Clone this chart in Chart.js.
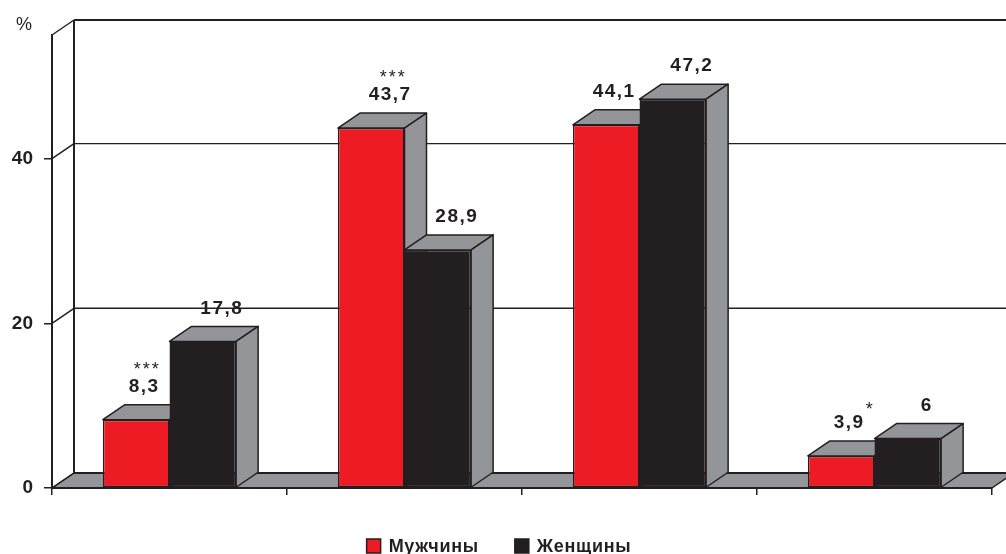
<!DOCTYPE html>
<html lang="ru">
<head>
<meta charset="utf-8">
<script src="https://cdn.jsdelivr.net/npm/chart.js@4.4.1/dist/chart.umd.min.js"></script>
<style>
  html, body { margin: 0; padding: 0; background: #fff; }
  #wrap { width: 1006px; height: 554px; }
</style>
</head>
<body>
<div id="wrap"><canvas id="chart" width="1006" height="554"></canvas></div>
<script>
'use strict';

// Share of respondents by group, men vs women (%)
const categories = ['1', '2', '3', '4'];
const seriesNames = ['Мужчины', 'Женщины'];
const menValues = [8.3, 43.7, 44.1, 3.9];
const womenValues = [17.8, 28.9, 47.2, 6];
// significance marks printed next to the value labels
const menMarks = ['***', '***', '', '*'];
const womenMarks = ['', '', '', ''];
const yTicks = [0, 20, 40];
const yMax = 55;
const unitLabel = '%';

const RED = '#ed1c24';
const DARK = '#231f20';
const GREY = '#939598';
const DEPTH_X = 22;
const DEPTH_Y = -15;
const FONT = '"Liberation Sans", Arial, Helvetica, sans-serif';

const fmt = v => String(v).replace('.', ',');

function poly(ctx, pts, fill) {
  ctx.beginPath();
  ctx.moveTo(pts[0][0], pts[0][1]);
  for (let i = 1; i < pts.length; i++) ctx.lineTo(pts[i][0], pts[i][1]);
  ctx.closePath();
  if (fill) { ctx.fillStyle = fill; ctx.fill(); }
  ctx.stroke();
}

function line(ctx, x1, y1, x2, y2) {
  ctx.beginPath();
  ctx.moveTo(x1, y1);
  ctx.lineTo(x2, y2);
  ctx.stroke();
}

// ── Pseudo-3D box: back wall, left wall edges, floor, bar tops/sides ─────────
const box3d = {
  id: 'box3d',

  beforeDraw(chart) {
    const { ctx, chartArea: a, scales: { y } } = chart;
    const y0 = y.getPixelForValue(0);
    const yTop = y.getPixelForValue(yMax);
    const bl = a.left + DEPTH_X;
    const br = a.right + DEPTH_X;

    ctx.save();
    ctx.strokeStyle = DARK;
    ctx.lineJoin = 'round';

    // floor
    ctx.lineWidth = 1.5;
    poly(ctx, [[a.left, y0], [a.right, y0], [br, y0 + DEPTH_Y], [bl, y0 + DEPTH_Y]], GREY);
    ctx.lineWidth = 2;
    line(ctx, bl, y0 + DEPTH_Y, br, y0 + DEPTH_Y);

    // grid lines on the back wall and their runs across the left wall
    yTicks.forEach(v => {
      const py = y.getPixelForValue(v);
      ctx.lineWidth = 1.5;
      line(ctx, a.left, py, bl, py + DEPTH_Y);
      if (v !== 0) {
        ctx.lineWidth = 1.3;
        line(ctx, bl, py + DEPTH_Y, br, py + DEPTH_Y);
      }
    });

    // wall outline
    ctx.lineWidth = 1.5;
    line(ctx, a.left, yTop, bl, yTop + DEPTH_Y);
    ctx.lineWidth = 2;
    line(ctx, bl, yTop + DEPTH_Y, br, yTop + DEPTH_Y);
    line(ctx, bl, yTop + DEPTH_Y, bl, y0 + DEPTH_Y);

    // unit label above the axis
    ctx.fillStyle = DARK;
    ctx.font = `18px ${FONT}`;
    ctx.textAlign = 'center';
    ctx.textBaseline = 'middle';
    ctx.fillText(unitLabel, 24, yTop - 10);
    ctx.restore();
  },

  beforeDatasetsDraw(chart) {
    const { ctx } = chart;
    ctx.save();
    ctx.strokeStyle = DARK;
    ctx.lineWidth = 1.5;
    ctx.lineJoin = 'round';
    categories.forEach((_, i) => {
      chart.data.datasets.forEach((ds, di) => {
        const bar = chart.getDatasetMeta(di).data[i];
        const { x, y, base, width } = bar.getProps(['x', 'y', 'base', 'width'], true);
        const l = x - width / 2;
        const r = x + width / 2;
        poly(ctx, [[l, y], [r, y], [r + DEPTH_X, y + DEPTH_Y], [l + DEPTH_X, y + DEPTH_Y]], GREY);
        poly(ctx, [[r, y], [r + DEPTH_X, y + DEPTH_Y], [r + DEPTH_X, base + DEPTH_Y], [r, base]], GREY);
      });
    });
    ctx.restore();
  },

  afterDatasetsDraw(chart) {
    const { ctx } = chart;
    const marks = [menMarks, womenMarks];
    ctx.save();
    ctx.fillStyle = DARK;
    ctx.textAlign = 'center';
    ctx.textBaseline = 'middle';
    chart.data.datasets.forEach((ds, di) => {
      const other = chart.data.datasets[1 - di].data;
      chart.getDatasetMeta(di).data.forEach((bar, i) => {
        const v = ds.data[i];
        // keep the first label clear of a taller neighbour
        const cx = bar.x + (di === 0 && other[i] > v ? 8 : 19);
        const cy = bar.y + DEPTH_Y - 18;
        ctx.font = `bold 19px ${FONT}`;
        ctx.letterSpacing = '1.5px';
        const text = fmt(v);
        ctx.fillText(text, cx, cy);
        const w = ctx.measureText(text).width;

        const m = marks[di][i];
        if (!m) return;
        ctx.font = `18px ${FONT}`;
        ctx.letterSpacing = '2px';
        if (m.length > 1) {
          ctx.fillText(m, cx + 3, cy - 17);
        } else {
          ctx.textAlign = 'left';
          ctx.fillText(m, cx + w / 2 + 1, cy - 13);
          ctx.textAlign = 'center';
        }
      });
    });
    ctx.restore();
  },

  afterDraw(chart) {
    const { ctx, width } = chart;
    const colors = [RED, DARK];
    const box = 14, gap = 8, itemGap = 36, cy = 546;
    ctx.save();
    ctx.font = `bold 18px ${FONT}`;
    ctx.letterSpacing = '0.7px';
    const widths = seriesNames.map(s => ctx.measureText(s).width);
    const total = widths.reduce((s, w) => s + box + gap + w, 0) + itemGap * (seriesNames.length - 1);
    let x = (width - total) / 2 - 4;
    ctx.textBaseline = 'middle';
    ctx.textAlign = 'left';
    seriesNames.forEach((name, i) => {
      ctx.fillStyle = colors[i];
      ctx.strokeStyle = DARK;
      ctx.lineWidth = 1.5;
      ctx.fillRect(x, cy - box / 2, box, box);
      ctx.strokeRect(x, cy - box / 2, box, box);
      ctx.fillStyle = DARK;
      ctx.fillText(name, x + box + gap, cy + 1);
      x += box + gap + widths[i] + itemGap;
    });
    ctx.restore();
  },
};

const canvas = document.getElementById('chart');

new Chart(canvas.getContext('2d'), {
  type: 'bar',
  data: {
    labels: categories,
    datasets: [menValues, womenValues].map((values, i) => ({
      label: seriesNames[i],
      data: values,
      backgroundColor: i === 0 ? RED : DARK,
      borderColor: DARK,
      borderWidth: 1.5,
      borderSkipped: false,
      categoryPercentage: 0.567,
      barPercentage: 1,
    })),
  },
  options: {
    responsive: false,
    devicePixelRatio: 1,
    animation: false,
    layout: { padding: { top: 35, right: 14, bottom: 0, left: 0 } },
    plugins: {
      legend: { display: false },
      tooltip: { enabled: false },
    },
    scales: {
      x: {
        afterFit: (s) => { s.height = 66; },
        border: { display: true, color: DARK, width: 2 },
        grid: { drawOnChartArea: false, tickLength: 7, color: DARK, lineWidth: 1.5, offset: true },
        ticks: { display: false },
      },
      y: {
        min: 0,
        max: yMax,
        afterBuildTicks: (s) => { s.ticks = yTicks.map(value => ({ value })); },
        afterFit: (s) => { s.width = 52; },
        border: { display: true, color: DARK, width: 2 },
        grid: { drawOnChartArea: false, tickLength: 8, color: DARK, lineWidth: 1.5 },
        ticks: {
          color: DARK,
          padding: 11,
          font: { family: FONT, size: 19, weight: 'bold' },
        },
      },
    },
  },
  plugins: [box3d],
});
</script>
</body>
</html>
